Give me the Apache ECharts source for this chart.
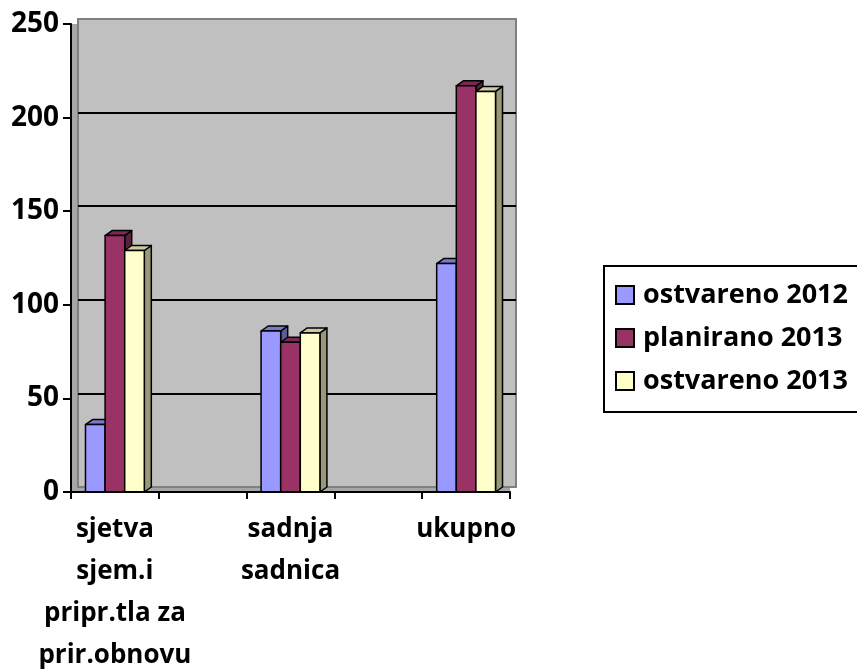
<!DOCTYPE html>
<html>
<head>
<meta charset="utf-8">
<script src="https://cdn.jsdelivr.net/npm/echarts@6/dist/echarts.min.js"></script>
<style>
    html, body { margin: 0; padding: 0; background: #fff; }
    #chart { width: 857px; height: 670px; }
</style>
</head>
<body>
<div id="chart"></div>
<script>
const categories = ['sjetva\nsjem.i\npripr.tla za\nprir.obnovu', 'sadnja\nsadnica', 'ukupno'];
const seriesNames = ['ostvareno 2012', 'planirano 2013', 'ostvareno 2013'];
const ostvareno2012 = [36, 86, 122];
const planirano2013 = [137, 80, 217];
const ostvareno2013 = [129, 85, 214];
const yTicks = [0, 50, 100, 150, 200, 250];

const faceColors = ['#9999FF', '#993366', '#FFFFCC'];
const topColors = ['#7A7ACC', '#7A2952', '#CCCCA3'];
const sideColors = ['#5C5C99', '#5C1F3D', '#999977'];
const DX = 7, DY = -5;
const FONT = '"Open Sans", "Noto Sans", sans-serif';

// empty slot between categories, like the original sheet
const axisSlots = [];
categories.forEach((c, i) => {
    if (i > 0) axisSlots.push('');
    axisSlots.push(c);
});

function renderBar(params, api) {
    const s = params.seriesIndex;
    const slot = api.value(0);
    const base = api.coord([slot, 0]);
    const top = api.coord([slot, api.value(1)]);
    const band = api.size([1, 0])[0];
    const bw = band * 0.67 / 3;
    const x0 = base[0] - 1.5 * bw + s * bw;
    const x1 = x0 + bw;
    const yt = top[1], yb = base[1];
    const stroke = { stroke: '#000', lineWidth: 1.5, lineJoin: 'round' };
    return {
        type: 'group',
        children: [
            {
                type: 'polygon',
                shape: { points: [[x1, yt], [x1 + DX, yt + DY], [x1 + DX, yb + DY], [x1, yb]] },
                style: { fill: sideColors[s], ...stroke }
            },
            {
                type: 'polygon',
                shape: { points: [[x0, yt], [x0 + DX, yt + DY], [x1 + DX, yt + DY], [x1, yt]] },
                style: { fill: topColors[s], ...stroke }
            },
            {
                type: 'rect',
                shape: { x: x0, y: yt, width: bw, height: yb - yt },
                style: { fill: faceColors[s], ...stroke }
            }
        ]
    };
}

const chart = echarts.init(document.getElementById('chart'));
const allValues = [ostvareno2012, planirano2013, ostvareno2013];

chart.setOption({
    backgroundColor: '#fff',
    animation: false,
    textStyle: { fontFamily: FONT },
    grid: [
        // front plane: axes, side wall and floor
        { left: 71, right: 347, top: 24, bottom: 178, outerBoundsMode: 'none', show: true, backgroundColor: '#A6A6A6', borderWidth: 0, z: 0 },
        // back wall with gridlines
        { left: 78, right: 341, top: 19, bottom: 183, outerBoundsMode: 'none', show: true, backgroundColor: '#C0C0C0', borderColor: '#808080', borderWidth: 2, z: 1 }
    ],
    xAxis: [
        {
            type: 'category',
            gridIndex: 0,
            data: axisSlots,
            boundaryGap: true,
            z: 6,
            axisLine: { lineStyle: { color: '#000', width: 2 } },
            axisTick: { show: true, interval: 0, length: 7, lineStyle: { color: '#000', width: 2 } },
            axisLabel: {
                interval: 0,
                color: '#000',
                fontWeight: 'bold',
                fontSize: 26,
                lineHeight: 42,
                margin: 17,
                fontFamily: FONT
            }
        },
        { type: 'value', gridIndex: 1, show: false, min: 0, max: 1 }
    ],
    yAxis: [
        {
            type: 'value',
            gridIndex: 0,
            min: yTicks[0],
            max: yTicks[yTicks.length - 1],
            interval: 50,
            z: 6,
            axisLine: { show: true, lineStyle: { color: '#000', width: 2 } },
            axisTick: { show: true, length: 8, lineStyle: { color: '#000', width: 2 } },
            splitLine: { show: false },
            axisLabel: { color: '#000', fontWeight: 'bold', fontSize: 28, margin: 12, fontFamily: FONT }
        },
        {
            type: 'value',
            gridIndex: 1,
            min: yTicks[0],
            max: yTicks[yTicks.length - 1],
            interval: 50,
            z: 2,
            axisLine: { show: false },
            axisTick: { show: false },
            axisLabel: { show: false },
            splitLine: { show: true, showMinLine: false, showMaxLine: false, lineStyle: { color: '#000', width: 2 } }
        }
    ],
    legend: {
        orient: 'vertical',
        left: 604,
        top: 266,
        data: seriesNames,
        icon: 'rect',
        itemWidth: 18,
        itemHeight: 18,
        itemGap: 15,
        padding: [15, 0, 3, 11],
        borderWidth: 0,
        textStyle: { color: '#000', fontWeight: 'bold', fontSize: 27, lineHeight: 28, fontFamily: FONT, padding: [0, 0, 0, 4] }
    },
    // legend frame runs past the right edge in the original
    graphic: [{
        type: 'rect',
        x: 604,
        y: 266,
        silent: true,
        shape: { x: 0, y: 0, width: 300, height: 146 },
        style: { fill: 'none', stroke: '#000', lineWidth: 2 }
    }],
    series: seriesNames.map((name, s) => ({
        name,
        type: 'custom',
        xAxisIndex: 0,
        yAxisIndex: 0,
        z: 5,
        itemStyle: { color: faceColors[s], borderColor: '#000', borderWidth: 1.5 },
        renderItem: renderBar,
        encode: { x: 0, y: 1 },
        data: allValues[s].map((v, k) => [k * 2, v])
    }))
});
</script>
</body>
</html>
